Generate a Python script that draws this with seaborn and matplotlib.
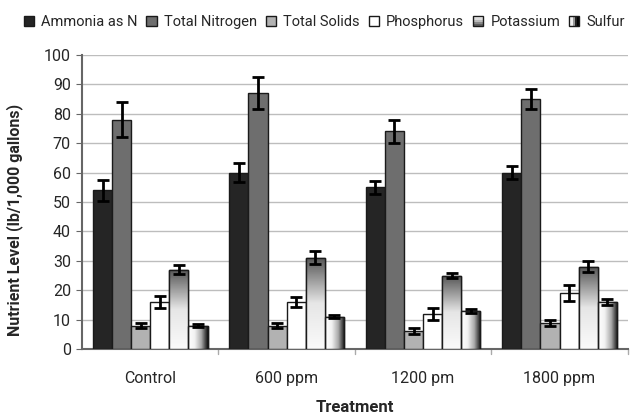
import numpy as np
import pandas as pd
import matplotlib
matplotlib.use("Agg")
import matplotlib.pyplot as plt
import matplotlib.patches as mpatches
from matplotlib.legend_handler import HandlerBase
from matplotlib.colors import LinearSegmentedColormap
import seaborn as sns

treatments = ["Control", "600 ppm", "1200 pm", "1800 ppm"]
nutrients = ["Ammonia as N", "Total Nitrogen", "Total Solids", "Phosphorus", "Potassium", "Sulfur"]

ammonia = [54, 60, 55, 60]
total_nitrogen = [78, 87, 74, 85]
total_solids = [8, 8, 6, 9]
phosphorus = [16, 16, 12, 19]
potassium = [27, 31, 25, 28]
sulfur = [8, 11, 13, 16]

ammonia_err = [3.5, 3.2, 2.2, 2.2]
total_nitrogen_err = [6.0, 5.5, 3.8, 3.3]
total_solids_err = [1.0, 1.0, 1.0, 1.0]
phosphorus_err = [2.0, 1.7, 2.0, 2.8]
potassium_err = [1.5, 2.2, 0.8, 1.8]
sulfur_err = [0.6, 0.6, 0.6, 1.0]

values = [ammonia, total_nitrogen, total_solids, phosphorus, potassium, sulfur]
errors = [ammonia_err, total_nitrogen_err, total_solids_err, phosphorus_err, potassium_err, sulfur_err]

rows = []
for name, vals, errs in zip(nutrients, values, errors):
    for t, v, e in zip(treatments, vals, errs):
        rows.append({"Treatment": t, "Nutrient": name, "Level": v, "Err": e})
df = pd.DataFrame(rows)

palette = {
    "Ammonia as N": "#252525",
    "Total Nitrogen": "#6e6e6e",
    "Total Solids": "#b2b2b2",
    "Phosphorus": "#ffffff",
    "Potassium": "#a8a8a8",
    "Sulfur": "#c8c8c8",
}

sns.set_style("white")
plt.rcParams["font.family"] = ["Roboto", "DejaVu Sans"]

fig = plt.figure(figsize=(6.36, 4.17), dpi=100)
ax = fig.add_axes([0.129, 0.163, 0.858, 0.705])

sns.barplot(data=df, x="Treatment", y="Level", hue="Nutrient", order=treatments,
            hue_order=nutrients, palette=palette, width=0.84, edgecolor="#1a1a1a",
            linewidth=1, errorbar=None, legend=False, ax=ax, zorder=3)

grad_k = LinearSegmentedColormap.from_list("k", ["#fafafa", "#e6e6e6", "#555555"])
grad_s = LinearSegmentedColormap.from_list("s", ["#ffffff", "#f2f2f2", "#aaaaaa", "#111111"])

for name, cont in zip(nutrients, ax.containers):
    errs = df[df["Nutrient"] == name]["Err"].values
    for bar, e in zip(cont, errs):
        x0, y0 = bar.get_x(), bar.get_y()
        w, h = bar.get_width(), bar.get_height()
        if name == "Potassium":
            img = np.linspace(0, 1, 100).reshape(-1, 1)
            im = ax.imshow(img, extent=[x0, x0 + w, y0 + h, y0], origin="upper",
                           aspect="auto", cmap=grad_k, zorder=3.5)
            im.set_clip_path(bar)
        elif name == "Sulfur":
            img = np.linspace(0, 1, 100).reshape(1, -1)
            im = ax.imshow(img, extent=[x0, x0 + w, y0, y0 + h], aspect="auto",
                           cmap=grad_s, zorder=3.5)
            im.set_clip_path(bar)
        if name in ("Potassium", "Sulfur"):
            ax.add_patch(mpatches.Rectangle((x0, y0), w, h, fill=False,
                                            edgecolor="#1a1a1a", lw=1, zorder=3.6))
        ax.errorbar(x0 + w / 2, y0 + h, yerr=e, color="black", capsize=4,
                    elinewidth=2, capthick=2, zorder=4)

ax.set_xlim(-0.5, 3.5)
ax.set_ylim(0, 100)
ax.set_yticks(range(0, 101, 10))
ax.yaxis.grid(True, color="#bdbdbd", lw=1, zorder=0)
ax.set_axisbelow(True)
ax.set_xticks(range(4))
ax.set_xticklabels(treatments, fontsize=11.5)
ax.tick_params(axis="x", length=0, pad=16)
ax.tick_params(axis="y", length=4, color="#666666", labelsize=11.5, pad=4, direction="out", left=True)
for b in [0.5, 1.5, 2.5, 3.5]:
    ax.plot([b, b], [0, -1.8], color="#aaaaaa", lw=1, clip_on=False)

for s in ["top", "right"]:
    ax.spines[s].set_visible(False)
ax.spines["left"].set_color("#666666")
ax.spines["left"].set_linewidth(1.5)
ax.spines["bottom"].set_color("#666666")
ax.spines["bottom"].set_linewidth(1.5)

ax.set_ylabel("Nutrient Level (lb/1,000 gallons)", fontsize=11.5, fontweight="bold")
ax.yaxis.set_label_coords(-0.108, 0.44)
ax.set_xlabel("Treatment", fontsize=12, fontweight="bold")
ax.xaxis.set_label_coords(0.5, -0.172)


class StripHandler(HandlerBase):
    def __init__(self, colors, vertical):
        super().__init__()
        self.colors = colors
        self.vertical = vertical

    def create_artists(self, legend, orig_handle, xdescent, ydescent, width, height, fontsize, trans):
        arts = []
        n = len(self.colors)
        for i, c in enumerate(self.colors):
            if self.vertical:
                r = mpatches.Rectangle((-xdescent, -ydescent + height * (n - 1 - i) / n), width, height / n,
                                       facecolor=c, edgecolor="none", transform=trans)
            else:
                r = mpatches.Rectangle((-xdescent + width * i / n, -ydescent), width / n, height,
                                       facecolor=c, edgecolor="none", transform=trans)
            arts.append(r)
        arts.append(mpatches.Rectangle((-xdescent, -ydescent), width, height, fill=False,
                                       edgecolor="#1a1a1a", lw=1, transform=trans))
        return arts


handles = [mpatches.Patch(facecolor=palette[n], edgecolor="#1a1a1a", lw=1) for n in nutrients]
k_handle, s_handle = handles[4], handles[5]
hmap = {
    k_handle: StripHandler(["#f5f5f5", "#dddddd", "#bbbbbb", "#888888", "#606060"], True),
    s_handle: StripHandler(["#ffffff", "#eeeeee", "#999999", "#222222", "#000000"], False),
}
fig.legend(handles, nutrients, loc="upper center", bbox_to_anchor=(0.51, 0.995), ncol=6,
           frameon=False, fontsize=10.5, handlelength=0.7, handleheight=0.7,
           handletextpad=0.5, columnspacing=0.6, handler_map=hmap)

fig.savefig("out.png", dpi=100)
